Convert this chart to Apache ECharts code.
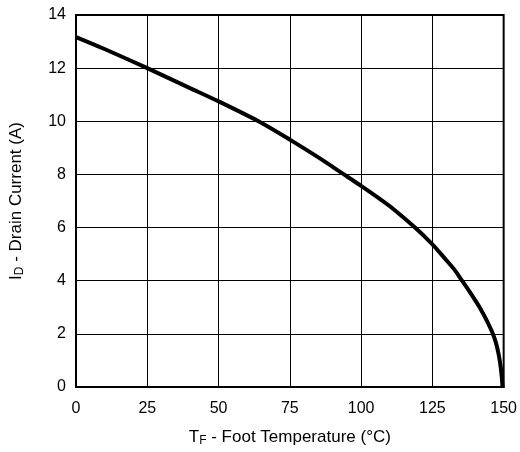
<!DOCTYPE html>
<html>
<head>
<meta charset="utf-8">
<script src="https://cdn.jsdelivr.net/npm/echarts@6/dist/echarts.min.js"></script>
<style>html,body{margin:0;padding:0;background:#fff;}#c{width:520px;height:452px;}</style>
</head>
<body>
<div id="c"></div>
<script>
var temps =   [0,     10,    25,   40,    50,    64,   75,   85,   94,   100,  106.3, 110,  118.9, 125,  130,  133,  135.4, 138,  140.1, 142,  144,  146,  147.3, 148.3, 149,  149.4, 149.6];
var current = [13.17, 12.72, 12.0, 11.25, 10.75, 10.0, 9.31, 8.64, 8.0,  7.57, 7.1,   6.81, 6.0,   5.37, 4.76, 4.38, 4.0,   3.6,  3.25,  2.92, 2.52, 2.06, 1.66,  1.2,   0.72, 0.3,   0];
var xTicks = [0, 25, 50, 75, 100, 125, 150];
var yTicks = [0, 2, 4, 6, 8, 10, 12, 14];

var chart = echarts.init(document.getElementById('c'));
var font = 'Liberation Sans, Arial, Helvetica, sans-serif';
var nameRich = {n: {fontSize: 17, fontFamily: font, color: '#000'}, s: {fontSize: 12, fontFamily: font, color: '#000', verticalAlign: 'bottom', padding: [7,0,0,0]}};
chart.setOption({
  animation: false,
  grid: {left: 76, right: 15, top: 15, bottom: 63, show: true, borderColor: '#000', borderWidth: 2, backgroundColor: 'transparent'},
  xAxis: {
    type: 'value', min: xTicks[0], max: xTicks[xTicks.length-1], interval: 25,
    axisLine: {show: true, lineStyle: {color: '#000', width: 2}},
    axisTick: {show: false},
    splitLine: {show: true, lineStyle: {color: '#000', width: 1}},
    axisLabel: {color: '#000', fontSize: 16, fontFamily: font, margin: 14},
    name: '{n|T}{s|F}{n| - Foot Temperature (°C)}',
    nameLocation: 'middle', nameGap: 41,
    nameTextStyle: {rich: nameRich}
  },
  yAxis: {
    type: 'value', min: yTicks[0], max: yTicks[yTicks.length-1], interval: 2,
    axisLine: {show: true, lineStyle: {color: '#000', width: 2}},
    axisTick: {show: false},
    splitLine: {show: true, lineStyle: {color: '#000', width: 1}},
    axisLabel: {color: '#000', fontSize: 16, fontFamily: font, margin: 10},
    name: '{n|I}{s|D}{n| - Drain Current (A)}',
    nameLocation: 'middle', nameGap: 50, nameRotate: 90,
    nameTextStyle: {rich: nameRich}
  },
  series: [{
    type: 'line', showSymbol: false, smooth: 0.3,
    data: temps.map(function(t, i){ return [t, current[i]]; }),
    lineStyle: {color: '#000', width: 4}
  }]
});
</script>
</body>
</html>
